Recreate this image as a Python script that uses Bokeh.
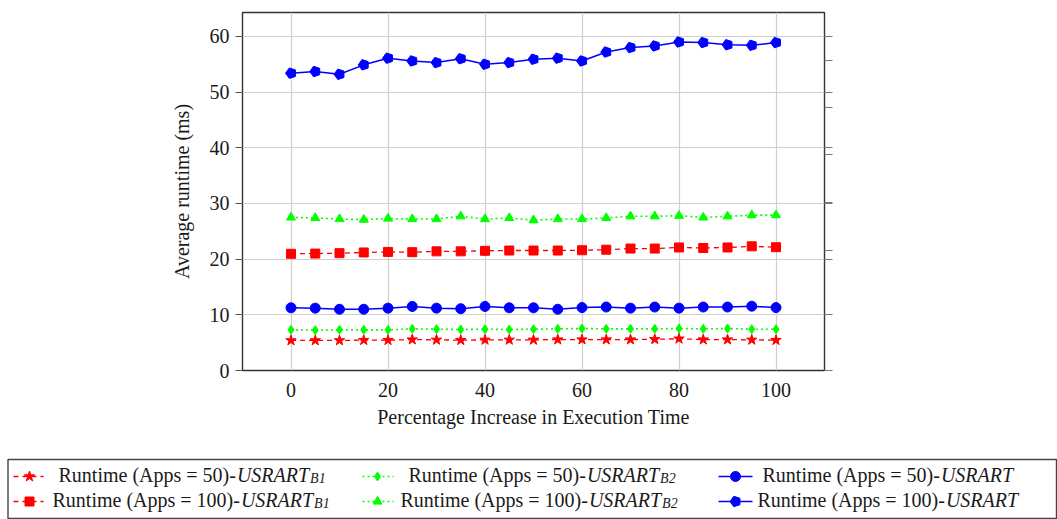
import math
from bokeh.plotting import figure
from bokeh.layouts import column
from bokeh.models import Range1d, FixedTicker, LinearAxis, CustomJSTickFormatter
from bokeh.core.properties import value
from bokeh.embed import file_html
from bokeh.resources import INLINE

# ---------------- data ----------------
x_pct = [0, 5, 10, 15, 20, 25, 30, 35, 40, 45, 50, 55, 60, 65, 70, 75, 80, 85, 90, 95, 100]

b1_apps50 = [5.4, 5.4, 5.4, 5.45, 5.45, 5.55, 5.5, 5.45, 5.5, 5.5, 5.5,
             5.55, 5.55, 5.55, 5.55, 5.6, 5.7, 5.55, 5.55, 5.5, 5.45]
b2_apps50 = [7.3, 7.25, 7.3, 7.3, 7.3, 7.48, 7.42, 7.36, 7.42, 7.36, 7.42,
             7.48, 7.54, 7.48, 7.48, 7.48, 7.54, 7.48, 7.54, 7.42, 7.42]
usrart_apps50 = [11.26, 11.2, 11.0, 11.0, 11.2, 11.5, 11.2, 11.1, 11.5, 11.26, 11.26,
                 11.0, 11.3, 11.4, 11.2, 11.4, 11.2, 11.4, 11.4, 11.55, 11.3]
b1_apps100 = [20.96, 21.0, 21.07, 21.2, 21.3, 21.25, 21.4, 21.4, 21.5, 21.55, 21.55,
              21.55, 21.6, 21.7, 21.9, 21.9, 22.1, 22.0, 22.1, 22.3, 22.15]
b2_apps100 = [27.5, 27.4, 27.2, 27.1, 27.3, 27.2, 27.2, 27.7, 27.2, 27.4, 27.0,
              27.2, 27.2, 27.4, 27.7, 27.7, 27.8, 27.5, 27.7, 27.9, 27.9]
usrart_apps100 = [53.4, 53.7, 53.2, 54.9, 56.1, 55.6, 55.3, 56.0, 55.0, 55.3, 55.9,
                  56.1, 55.6, 57.2, 58.0, 58.3, 59.0, 58.9, 58.5, 58.4, 58.9]

x_ticks = [0, 20, 40, 60, 80, 100]
y_ticks = [0, 10, 20, 30, 40, 50, 60]
y_ticks_right_extra = [21.6, 30.1, 38.8, 47.3, 55.6]

x_label = "Percentage Increase in Execution Time"
y_label = "Average runtime (ms)"

legend_prefix = ["Runtime (Apps = 50)-", "Runtime (Apps = 50)-", "Runtime (Apps = 50)-",
                 "Runtime (Apps = 100)-", "Runtime (Apps = 100)-", "Runtime (Apps = 100)-"]
legend_main = ["USRART"] * 6
legend_sub = ["B1", "B2", "", "B1", "B2", ""]

# ---------------- styles ----------------
FONT = "Liberation Serif"
RED, GREEN, BLUE = "#ff0000", "#00ff00", "#0000ff"
TXT = "#1a1a1a"

series = [
    dict(y=b1_apps50, color=RED, dash="5 4", marker="star", size=11, lw=1.3),
    dict(y=b2_apps50, color=GREEN, dash="2 3", marker="diamond", size=9, lw=1.6),
    dict(y=usrart_apps50, color=BLUE, dash="solid", marker="circle", size=10, lw=1.5),
    dict(y=b1_apps100, color=RED, dash="5 4", marker="square", size=9, lw=1.3),
    dict(y=b2_apps100, color=GREEN, dash="2 3", marker="triangle", size=9, lw=1.6),
    dict(y=usrart_apps100, color=BLUE, dash="solid", marker="pentagon", size=10, lw=1.5),
]


def no_align(fig):
    if "frame_align" in fig.properties():
        fig.frame_align = False


# ---------------- main plot ----------------
p = figure(width=1057, height=440, output_backend="svg", toolbar_location=None,
           x_range=Range1d(-10, 110), y_range=Range1d(0, 64.3),
           min_border_left=242, min_border_right=233, min_border_top=12,
           min_border_bottom=70, border_fill_color="white", background_fill_color="white")
no_align(p)
p.outline_line_color = "#333333"
p.outline_line_width = 1.4
p.outline_line_alpha = 1.0

p.xgrid.ticker = FixedTicker(ticks=x_ticks)
p.ygrid.ticker = FixedTicker(ticks=y_ticks)
p.grid.grid_line_color = "#cfcfcf"
p.grid.grid_line_width = 1.2

xa = p.xaxis[0]
xa.ticker = FixedTicker(ticks=x_ticks)
xa.axis_line_color = None
xa.major_tick_out = 0
xa.major_tick_in = 0
xa.minor_tick_line_color = None
xa.major_label_standoff = 12
xa.axis_label = x_label
xa.axis_label_standoff = 6

ya = p.yaxis[0]
ya.ticker = FixedTicker(ticks=y_ticks)
ya.axis_line_color = None
ya.major_tick_out = 7
ya.major_tick_in = 0
ya.major_tick_line_color = "#555555"
ya.minor_tick_line_color = None
ya.major_label_standoff = 6
ya.axis_label = y_label
ya.axis_label_standoff = 14

for ax in (xa, ya):
    ax.major_label_text_font = FONT
    ax.major_label_text_font_size = "20px"
    ax.major_label_text_color = TXT
    ax.axis_label_text_font = FONT
    ax.axis_label_text_font_size = "20px"
    ax.axis_label_text_font_style = "normal"
    ax.axis_label_text_color = TXT

ra = LinearAxis(ticker=FixedTicker(ticks=y_ticks + y_ticks_right_extra),
                formatter=CustomJSTickFormatter(code="return ''"))
ra.axis_line_color = None
ra.major_tick_out = 8
ra.major_tick_in = 0
ra.major_tick_line_color = "#777777"
ra.minor_tick_line_color = None
p.add_layout(ra, "right")

has_ngon = hasattr(p, "ngon")


def draw_marker(fig, xs, ys, s):
    if s["marker"] == "pentagon":
        if has_ngon:
            fig.ngon(x=xs, y=ys, radius=s["size"] / 2.0 + 0.5, radius_units="screen", n=5,
                     angle=math.pi / 2, fill_color=s["color"], line_color=s["color"])
        else:
            fig.scatter(xs, ys, marker="hex", size=s["size"],
                        fill_color=s["color"], line_color=s["color"])
    else:
        fig.scatter(xs, ys, marker=s["marker"], size=s["size"],
                    fill_color=s["color"], line_color=s["color"], line_width=1)


for s in series:
    p.line(x_pct, s["y"], line_color=s["color"], line_width=s["lw"], line_dash=s["dash"])
    draw_marker(p, x_pct, s["y"], s)

# ---------------- legend (drawn in its own panel) ----------------
L = figure(width=1057, height=79, output_backend="svg", toolbar_location=None,
           x_range=Range1d(0, 1057), y_range=Range1d(79, 0),
           min_border=0, min_border_left=0, min_border_right=0,
           min_border_top=0, min_border_bottom=0)
no_align(L)
L.xaxis.visible = False
L.yaxis.visible = False
L.grid.visible = False
L.outline_line_color = None

L.quad(left=[7.5], right=[1056], top=[19], bottom=[78], fill_color=None,
       line_color="#444444", line_width=1.4)

# widths (em) of Liberation Serif (Times metrics)
W_REG = {'R': 667, 'u': 500, 'n': 500, 't': 278, 'i': 278, 'm': 778, 'e': 444, ' ': 250,
         '(': 333, 'A': 722, 'p': 500, 's': 389, '=': 564, '5': 500, '0': 500, '1': 500,
         ')': 333, '-': 333}
W_IT = {'U': 722, 'S': 500, 'R': 611, 'A': 611, 'T': 556, 'B': 611, '1': 500, '2': 500}


def tw(txt, table, size):
    return sum(table[c] for c in txt) / 1000.0 * size


FS, FSUB = 20, 14
rows_y = [36, 61]
rows_base = [34, 59]
cols = [dict(l0=13, l1=43, m=29, t=[58, 52]),
        dict(l0=362, l1=393, m=377, t=[408, 400]),
        dict(l0=718, l1=752, m=735, t=[762, 757])]

for i, s in enumerate(series):
    r, c = divmod(i, 3)
    col = cols[c]
    yy = rows_y[r]
    L.line([col["l0"], col["l1"]], [yy, yy], line_color=s["color"], line_width=s["lw"],
           line_dash=s["dash"])
    draw_marker(L, [col["m"]], [yy], s)
    x0 = col["t"][r]
    yb = rows_base[r]
    L.text([x0], [yb], text=[legend_prefix[i]], text_font=value(FONT),
           text_font_size="%dpx" % FS, text_baseline="alphabetic", text_align="left",
           text_color=TXT)
    x1 = x0 + tw(legend_prefix[i], W_REG, FS) + 1
    L.text([x1], [yb], text=[legend_main[i]], text_font=value(FONT), text_font_style="italic",
           text_font_size="%dpx" % FS, text_baseline="alphabetic", text_align="left",
           text_color=TXT)
    if legend_sub[i]:
        x2 = x1 + tw(legend_main[i], W_IT, FS) + 1
        L.text([x2], [yb + 4], text=[legend_sub[i]], text_font=value(FONT),
               text_font_style="italic", text_font_size="%dpx" % FSUB,
               text_baseline="alphabetic", text_align="left", text_color=TXT)

layout = column(p, L, spacing=0)
open("out.html", "w").write(file_html(layout, INLINE))
